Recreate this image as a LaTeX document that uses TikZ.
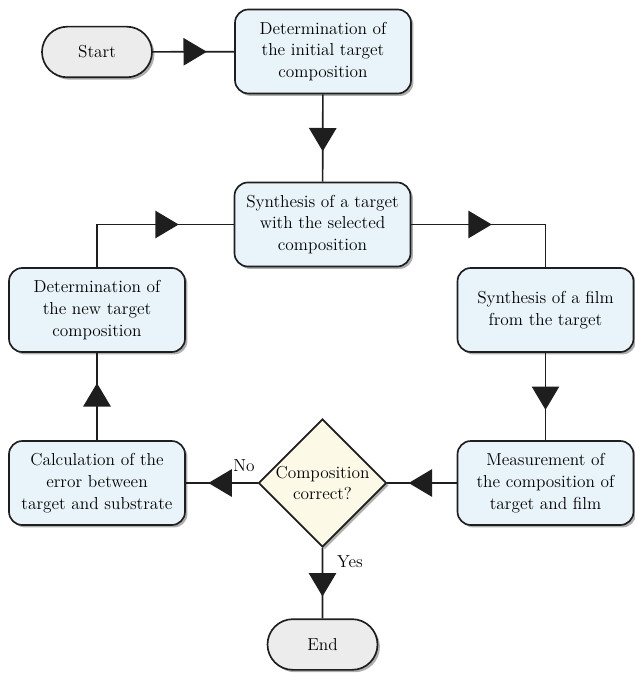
\documentclass[tikz,border=0pt]{standalone}
\usepackage{tikz}
\usetikzlibrary{shapes.geometric,shapes.misc,shadows,arrows.meta}
\usetikzlibrary{decorations.markings}
\usepackage{xcolor}
\definecolor{boxblue}{RGB}{233,244,250}
\definecolor{termgrey}{RGB}{236,236,236}
\definecolor{askcream}{RGB}{252,250,231}
\definecolor{ink}{RGB}{30,30,30}

\begin{document}
\begin{tikzpicture}[x=0.75pt,y=-0.75pt]
		\tikzstyle{shade}=[drop shadow={shadow xshift=1.8pt, shadow yshift=-1.8pt, opacity=.45, fill=black!70}]
		\tikzstyle{process}=[draw=ink, line width=1.25pt, rounded corners=10pt, fill=boxblue, minimum width=132pt, minimum height=63pt, inner sep=0pt, align=center, font=\fontsize{13}{16.3}\selectfont, shade]
		\tikzstyle{terminal}=[draw=ink, line width=1.25pt, rounded rectangle, fill=termgrey, minimum width=82.5pt, minimum height=38pt, inner sep=0pt, font=\fontsize{13}{16.3}\selectfont, shade]
		\tikzstyle{decision}=[draw=ink, line width=1.25pt, diamond, aspect=1, fill=askcream, minimum size=96pt, inner sep=0pt, shade]
		\tikzstyle{tag}=[font=\fontsize{13}{16.3}\selectfont, inner sep=0pt, align=center]
		\tikzstyle{edge}=[draw=ink, line width=1.25pt]
		\tikzstyle{flow}=[edge, postaction={decorate}, decoration={markings, mark=at position .5 with {\arrow[xshift=10pt, ink]{Triangle[length=17.5pt, width=20.5pt]}}}]

		\useasboundingbox (0,0) rectangle (634,673);

		\node[terminal] (start) at (97,52) {Start};
		\node[process] (detinit) at (323,51.5) {Determination of\\the initial target\\composition};
		\node[process] (synth) at (322.5,224.5) {Synthesis of a target\\with the selected\\composition};
		\node[process] (detnew) at (97,310) {Determination of\\the new target\\composition};
		\node[process] (film) at (545.5,310) {Synthesis of a film\\from the target};
		\node[process] (calc) at (97,483) {Calculation of the\\error between\\target and substrate};
		\node[process] (meas) at (545.5,483) {Measurement of\\the composition of\\target and film};
		\node[decision, label={[tag]center:{Composition\\correct?}}] (check) at (322.5,483) {};
		\node[terminal] (stop) at (322.5,644.5) {End};

		\node[tag] (no) at (244,466) {No};
		\node[tag] (yes) at (350,562) {Yes};

		\coordinate (c1) at (detnew.north |- synth.west);
		\coordinate (c2) at (film.north |- synth.east);

		\draw[flow] (start) -- (detinit);
		\draw[flow] (detinit) -- (synth);
		\draw[edge] (detnew) -- (c1);
		\draw[flow] (c1) -- (synth);
		\draw[flow] (synth) -- (c2);
		\draw[edge] (c2) -- (film);
		\draw[flow] (film) -- (meas);
		\draw[flow] (meas) -- (check);
		\draw[flow] (check) -- (calc);
		\draw[flow] (calc) -- (detnew);
		\draw[flow] (check) -- (stop);
\end{tikzpicture}
\end{document}
